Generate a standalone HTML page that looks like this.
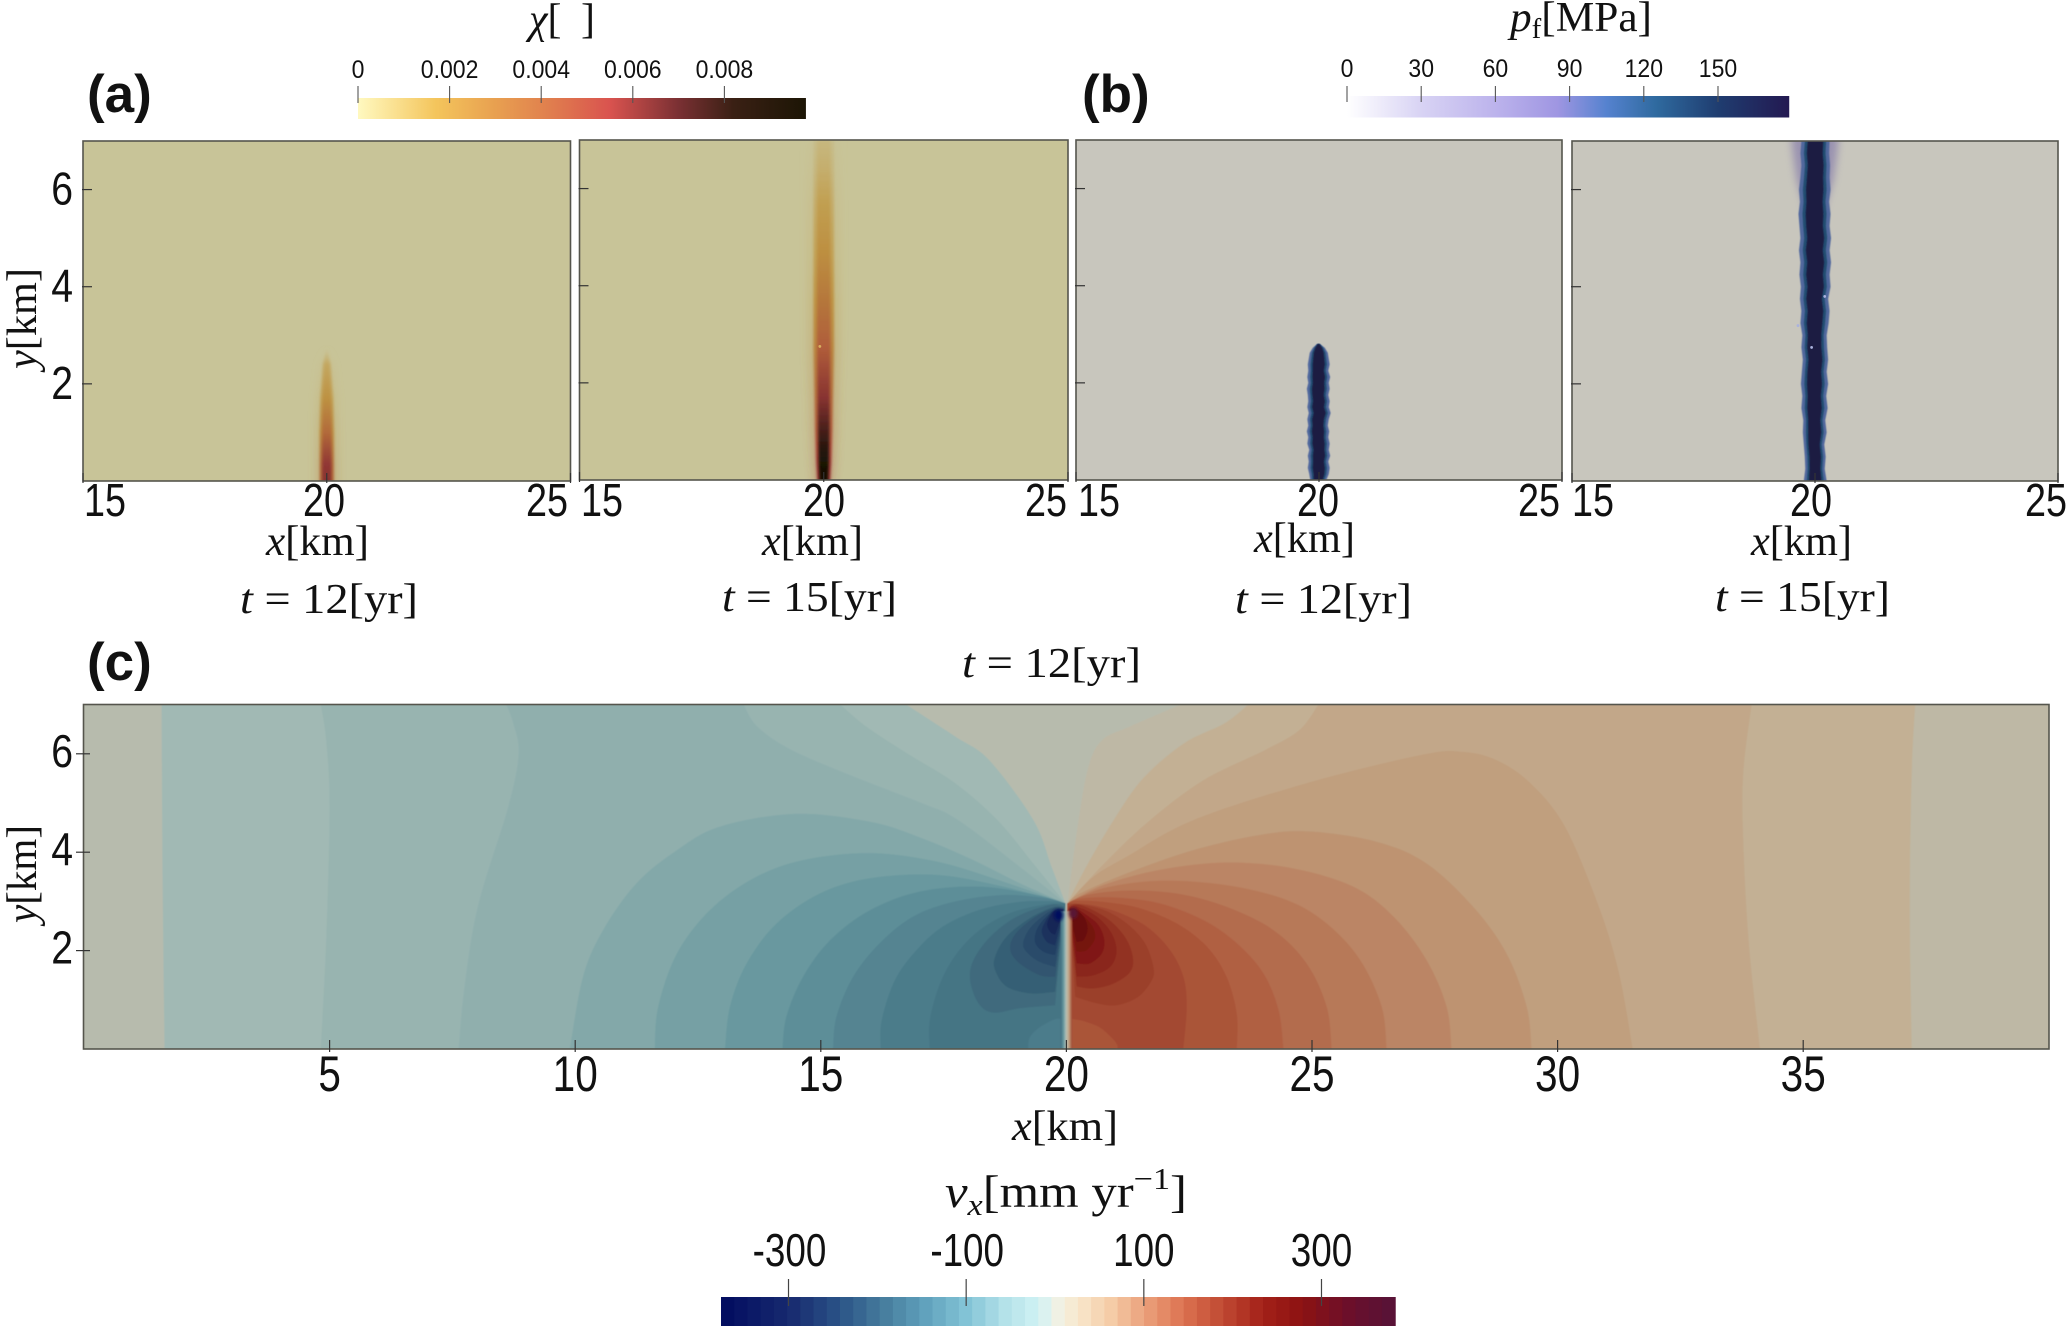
<!DOCTYPE html>
<html lang="en">
<head>
<meta charset="utf-8">
<title>Plume and velocity field figure</title>
<style>
html,body{margin:0;padding:0;background:#fff;}
svg{display:block;}
.m{font-family:"Liberation Serif",serif;fill:#111;}
.i{font-style:italic;}
.p{font-family:"Liberation Sans",sans-serif;font-weight:bold;font-size:53px;fill:#111;}
.t{font-family:"Liberation Sans",sans-serif;fill:#111;}
</style>
</head>
<body>
<svg id="fig" xmlns="http://www.w3.org/2000/svg" width="2067" height="1326" viewBox="0 0 2067 1326">
  <defs>
    <filter id="soft" x="-5%" y="-5%" width="110%" height="110%"><feGaussianBlur stdDeviation="0.6"/></filter>
    <filter id="plumeBlur" x="-100%" y="-5%" width="300%" height="110%"><feGaussianBlur stdDeviation="1.2"/></filter>
    <filter id="haloBlur" x="-100%" y="-20%" width="300%" height="140%"><feGaussianBlur stdDeviation="4"/></filter>
    <filter id="spotBlur" x="-100%" y="-100%" width="300%" height="300%"><feGaussianBlur stdDeviation="1.6"/></filter>
    <clipPath id="clipC"><rect x="84" y="704.6" width="1965" height="344.4"/></clipPath>
  </defs>

  <text class="p" x="87" y="112">(a)</text>
  <text class="p" x="1082" y="112">(b)</text>
  <text class="p" x="87" y="680">(c)</text>

  <text class="m" x="529" y="33" font-size="42"><tspan class="i">χ</tspan>[<tspan dx="9"> </tspan>]</text>
  <text class="m" x="1510" y="31" font-size="42" textLength="142" lengthAdjust="spacingAndGlyphs"><tspan class="i">p</tspan><tspan font-size="28" dy="7">f</tspan><tspan dy="-7">[MPa]</tspan></text>
  <text class="m" x="945" y="1207" font-size="46" textLength="242" lengthAdjust="spacingAndGlyphs"><tspan class="i">v</tspan><tspan class="i" font-size="31" dy="8">x</tspan><tspan dy="-8">[mm yr</tspan><tspan font-size="31" dy="-18">−1</tspan><tspan dy="18">]</tspan></text>

  <text class="m" x="266" y="555" font-size="42" textLength="103" lengthAdjust="spacingAndGlyphs"><tspan class="i">x</tspan>[km]</text>
  <text class="m" x="762" y="555" font-size="42" textLength="101" lengthAdjust="spacingAndGlyphs"><tspan class="i">x</tspan>[km]</text>
  <text class="m" x="1254" y="552" font-size="42" textLength="101" lengthAdjust="spacingAndGlyphs"><tspan class="i">x</tspan>[km]</text>
  <text class="m" x="1751" y="555" font-size="42" textLength="101" lengthAdjust="spacingAndGlyphs"><tspan class="i">x</tspan>[km]</text>
  <text class="m" x="1012" y="1140" font-size="42" textLength="106" lengthAdjust="spacingAndGlyphs"><tspan class="i">x</tspan>[km]</text>

  <text class="m" x="240" y="613" font-size="42" textLength="178" lengthAdjust="spacingAndGlyphs"><tspan class="i">t</tspan> = 12[yr]</text>
  <text class="m" x="722" y="611" font-size="42" textLength="175" lengthAdjust="spacingAndGlyphs"><tspan class="i">t</tspan> = 15[yr]</text>
  <text class="m" x="1235" y="613" font-size="42" textLength="177" lengthAdjust="spacingAndGlyphs"><tspan class="i">t</tspan> = 12[yr]</text>
  <text class="m" x="1715" y="611" font-size="42" textLength="175" lengthAdjust="spacingAndGlyphs"><tspan class="i">t</tspan> = 15[yr]</text>
  <text class="m" x="962" y="677" font-size="42" textLength="179" lengthAdjust="spacingAndGlyphs"><tspan class="i">t</tspan> = 12[yr]</text>

  <text class="m" transform="translate(36,369) rotate(-90)" font-size="42" textLength="101" lengthAdjust="spacingAndGlyphs"><tspan class="i">y</tspan>[km]</text>
  <text class="m" transform="translate(36,923) rotate(-90)" font-size="42" textLength="98" lengthAdjust="spacingAndGlyphs"><tspan class="i">y</tspan>[km]</text>
</svg>

<script>
// ---------- colormap data ----------
const chiStopValues = [0, 0.0017, 0.003, 0.0042, 0.0055, 0.007, 0.0082, 0.0098];
const chiStopColors = ['#fff9c0', '#f4c55c', '#e8a050', '#e07e4e', '#d9534f', '#7a3033', '#3a2014', '#1c1505'];
const pfStopValues = [0, 30, 60, 85, 105, 125, 150, 178];
const pfStopColors = ['#ffffff', '#d8d3f4', '#bcb3ec', '#9f96e2', '#5582cf', '#2f6a9f', '#1f3d70', '#231a52'];
const vxStopValues = [-380, -300, -239, -190, -148, -100, -56, -18, 0, 25, 62, 100, 143, 186, 235, 278, 332, 383];
const vxStopColors = ['#000a5e', '#17296f', '#2c5688', '#487f9f', '#5fa0bb', '#82c3d6', '#b4e2e9', '#d0f2f4', '#eef3e8', '#f9e8cd', '#f5cda8', '#eba27d', '#dd7452', '#c24c34', '#a32018', '#8c1212', '#6b0f2b', '#561238'];

// ---------- tick labels ----------
const chiTicks = [0, 0.002, 0.004, 0.006, 0.008];
const chiTickLabels = ['0', '0.002', '0.004', '0.006', '0.008'];
const pfTicks = [0, 30, 60, 90, 120, 150];
const pfTickLabels = ['0', '30', '60', '90', '120', '150'];
const vxTicks = [-300, -100, 100, 300];
const vxTickLabels = ['-300', '-100', '100', '300'];
const smallXTicks = [15, 20, 25];
const smallYTicks = [2, 4, 6];
const wideXTicks = [5, 10, 15, 20, 25, 30, 35];

// ---------- plume data, panel (a): x = 20 km column ----------
const chi12Heights = [0, 0.35, 1, 1.7, 2.4, 2.75];
const chi12Values = [0.0062, 0.006, 0.0038, 0.002, 0.0011, 0];
const chi12HalfWidth = [0.14, 0.14, 0.14, 0.13, 0.08, 0.01];
const chi15Heights = [0, 0.35, 0.68, 1.02, 1.7, 2.7, 3.7, 4.7, 5.7, 6.4, 7];
const chi15Values = [0.0098, 0.0095, 0.0085, 0.0076, 0.0062, 0.0044, 0.0032, 0.0021, 0.0014, 0.0009, 0.0006];
const chi15HalfWidth = [0.13, 0.15, 0.16, 0.17, 0.18, 0.2, 0.2, 0.2, 0.2, 0.2, 0.2];

// ---------- plume data, panel (b): edges in km ----------
const pf12Heights = [0, 0.12, 0.25, 0.38, 0.5, 0.62, 0.75, 0.88, 1, 1.12, 1.25, 1.38, 1.5, 1.62, 1.75, 1.88, 2, 2.12, 2.25, 2.38, 2.5, 2.62, 2.72, 2.8];
const pf12Left = [19.82, 19.8, 19.77, 19.79, 19.77, 19.8, 19.76, 19.78, 19.75, 19.78, 19.76, 19.79, 19.76, 19.78, 19.77, 19.75, 19.78, 19.76, 19.78, 19.77, 19.79, 19.81, 19.87, 19.96];
const pf12Right = [20.15, 20.2, 20.22, 20.19, 20.23, 20.2, 20.22, 20.19, 20.21, 20.18, 20.2, 20.24, 20.2, 20.22, 20.19, 20.22, 20.2, 20.23, 20.19, 20.22, 20.2, 20.18, 20.12, 20.02];
const pf15Heights = [0, 0.25, 0.5, 0.75, 1, 1.25, 1.5, 1.75, 2, 2.25, 2.5, 2.75, 3, 3.25, 3.5, 3.75, 4, 4.25, 4.5, 4.75, 5, 5.25, 5.5, 5.75, 6, 6.25, 6.5, 6.75, 7];
const pf15Left = [19.77, 19.8, 19.79, 19.77, 19.75, 19.76, 19.72, 19.74, 19.71, 19.73, 19.75, 19.72, 19.74, 19.7, 19.72, 19.69, 19.71, 19.68, 19.7, 19.67, 19.7, 19.68, 19.66, 19.69, 19.67, 19.7, 19.72, 19.7, 19.72];
const pf15Right = [20.24, 20.2, 20.22, 20.19, 20.24, 20.21, 20.26, 20.23, 20.27, 20.24, 20.27, 20.25, 20.24, 20.28, 20.3, 20.27, 20.32, 20.3, 20.33, 20.3, 20.33, 20.3, 20.32, 20.29, 20.32, 20.3, 20.31, 20.29, 20.3];
const pfLevels = [100, 128, 170];
const pfLevelInset = [1, 0.75, 0.55];
const pfHaloHeights = [5.6, 6.2, 6.7, 7];
const pfHaloHalfWidth = [0.2, 0.38, 0.45, 0.48];
const chiSpots = [[19.92, 2.75]];
const pfSpots = [[19.93, 2.75], [20.2, 3.8], [19.65, 3.2]];

// ---------- velocity field, panel (c): contour curves in km ----------
const fieldBackgroundLeftVx = -3;
const fieldBackgroundRightVx = 8;
const leftLevels = [-22, -37, -52, -67, -82, -97, -115, -132, -148, -160, -175, -195, -210, -225, -245, -265, -285];
const leftContours = [
  [[[1.64,0],[1.6,3.5],[1.58,7]], [[16.74,7],[17.74,6.35],[18.43,5.87],[19.33,4.65],[19.7,3.7],[19.98,2.96]]],
  [[[4.82,0],[4.93,2.2],[5,4.9],[4.93,6.28],[4.82,7]], [[15.4,7],[15.93,6.55],[16.77,6],[17.74,5.4],[18.6,4.65],[19.27,3.84],[19.98,2.96]]],
  [[[7.63,0],[7.74,1.2],[8.02,2.9],[8.64,4.93],[8.85,6],[8.74,6.62],[8.6,7]], [[13.43,7],[13.71,6.55],[14.4,6.08],[15.66,5.54],[17.05,5],[17.8,4.65],[19.13,3.64],[19.98,2.96]]],
  [[[9.89,0],[10.16,1.47],[10.57,2.42],[11.25,3.37],[12.07,4.04],[12.95,4.52],[14.47,4.78],[16,4.62],[17.02,4.3],[18.04,3.87],[19.05,3.37],[19.98,2.96]]],
  [[[11.62,0],[11.69,0.86],[12.07,1.94],[12.74,2.82],[13.63,3.47],[14.64,3.84],[16,3.98],[17.36,3.81],[18.72,3.4],[19.98,2.96]]],
  [[[13.05,0],[13.15,0.86],[13.49,1.74],[14.1,2.55],[14.98,3.16],[16,3.47],[17.36,3.54],[18.72,3.3],[19.98,2.96]]],
  [[[14.22,0],[14.3,0.66],[14.64,1.47],[15.19,2.21],[16,2.82],[17.02,3.2],[18.24,3.3],[19.39,3.13],[19.98,2.96]]],
  [[[15.25,0],[15.32,0.66],[15.66,1.47],[16.2,2.15],[16.88,2.69],[17.7,2.99],[18.72,3.13],[19.6,3.06],[19.98,2.96]]],
  [[[16.22,0],[16.24,0.58],[16.51,1.4],[16.95,2.01],[17.49,2.49],[18.24,2.83],[19.05,2.99],[19.73,3],[19.98,2.96]]],
  [[[17.22,0],[17.22,0.58],[17.43,1.33],[17.77,1.94],[18.24,2.42],[18.85,2.76],[19.53,2.93],[19.98,2.96]]],
  [[[19.77,0.89],[19.06,0.83],[18.51,0.74],[18.21,0.93],[18.04,1.4],[18.11,1.81],[18.45,2.28],[18.99,2.69],[19.67,2.93],[19.95,2.9]]],
  [[[19.77,1.16],[19.26,1.13],[18.78,1.27],[18.55,1.6],[18.55,1.88],[18.78,2.28],[19.26,2.66],[19.73,2.88],[19.95,2.88]]],
  [[[19.77,1.47],[19.46,1.5],[19.05,1.74],[18.86,2.01],[18.95,2.32],[19.33,2.66],[19.73,2.86],[19.95,2.86]]],
  [[[19.77,1.67],[19.46,1.77],[19.22,1.94],[19.12,2.15],[19.29,2.49],[19.73,2.84],[19.95,2.85]]],
  [[[19.77,1.91],[19.53,1.98],[19.36,2.18],[19.43,2.49],[19.73,2.81],[19.95,2.84]]],
  [[[19.77,2.11],[19.6,2.18],[19.5,2.38],[19.57,2.59],[19.73,2.8],[19.95,2.84]]],
  [[[19.77,2.32],[19.67,2.38],[19.61,2.55],[19.73,2.78],[19.95,2.84]]]
];
const leftBottomBlobVx = -146;
const leftBottomBlob = [[19.22,0],[19.26,0.25],[19.53,0.49],[19.9,0.59],[19.95,0]];

const rightBackgroundCurve = [[22.32,7],[21.28,6.55],[20.73,6.28],[20.45,5.74],[20.24,4.6],[20.02,2.96]];
const rightLevels = [30, 45, 60, 75, 90, 105, 120, 135, 150, 165, 180, 198, 215, 235, 260, 290];
const rightContours = [
  [[[37.21,0],[37.17,2.89],[37.21,5.6],[37.28,7]], [[23.7,7],[23.22,6.62],[22.39,6.21],[21.56,5.5],[20.96,4.65],[20.4,3.7],[20.02,2.96]]],
  [[[34.12,0],[33.89,2.2],[33.78,4.25],[33.78,5.6],[33.95,7]], [[25.13,7],[24.74,6.48],[24.05,6.08],[22.8,5.47],[21.7,4.65],[20.75,3.75],[20.02,2.96]]],
  [[[31.53,0],[31.25,1.54],[30.84,2.89],[30.15,4.52],[29.45,5.4],[28.76,5.87],[28.07,6.04],[27.24,5.98],[24.88,5.4],[22.58,4.65],[21.23,3.91],[20.55,3.5],[20.02,2.96]]],
  [[[29.47,0],[29.37,0.86],[28.96,1.94],[28.28,2.89],[27.33,3.77],[26.32,4.21],[24.96,4.42],[23.94,4.35],[22.58,4.04],[21.23,3.57],[20.28,3.16],[20.02,2.96]]],
  [[[27.84,0],[27.74,0.86],[27.33,1.81],[26.66,2.69],[25.84,3.3],[24.62,3.67],[23.26,3.79],[21.9,3.64],[20.75,3.33],[20.02,2.96]]],
  [[[26.52,0],[26.42,0.86],[25.98,1.81],[25.3,2.55],[24.48,3.03],[23.26,3.33],[21.9,3.42],[20.75,3.27],[20.02,2.96]]],
  [[[25.4,0],[25.3,0.86],[24.89,1.74],[24.21,2.42],[23.26,2.89],[22.25,3.16],[21.23,3.22],[20.41,3.13],[20.02,2.96]]],
  [[[24.42,0],[24.32,0.79],[24.01,1.54],[23.47,2.15],[22.79,2.62],[21.9,2.96],[21.02,3.08],[20.28,3.06],[20.02,2.96]]],
  [[[23.47,0],[23.47,0.71],[23.26,1.47],[22.86,2.08],[22.25,2.55],[21.5,2.86],[20.75,2.99],[20.21,3.01],[20.02,2.96]]],
  [[[22.38,0],[22.45,0.86],[22.38,1.47],[22.11,2.01],[21.63,2.49],[21.02,2.79],[20.48,2.93],[20.02,2.96]]],
  [[[20.18,1.06],[20.62,0.93],[21.02,0.89],[21.46,1.06],[21.74,1.4],[21.77,1.67],[21.6,2.15],[21.23,2.55],[20.75,2.83],[20.2,2.95],[20.05,2.9]]],
  [[[20.21,1.27],[20.55,1.23],[20.96,1.33],[21.3,1.57],[21.35,1.88],[21.19,2.28],[20.82,2.66],[20.28,2.93],[20.05,2.88]]],
  [[[20.21,1.47],[20.55,1.5],[20.89,1.67],[21.02,1.98],[20.92,2.35],[20.62,2.69],[20.21,2.89],[20.05,2.86]]],
  [[[20.21,1.74],[20.48,1.74],[20.72,1.94],[20.77,2.22],[20.65,2.52],[20.41,2.72],[20.18,2.86],[20.05,2.85]]],
  [[[20.21,1.98],[20.41,2.01],[20.58,2.25],[20.51,2.52],[20.21,2.82],[20.05,2.84]]],
  [[[20.21,2.18],[20.35,2.22],[20.43,2.45],[20.35,2.69],[20.18,2.84],[20.05,2.84]]]
];
const rightBottomBlobVx = 150;
const rightBottomBlob = [[20.08,0.62],[20.41,0.55],[20.75,0.39],[21.02,0],[20.08,0]];
const fieldPeaksX = [19.84, 20.14];
const fieldPeaksY = [2.72, 2.76];
const fieldPeaksVx = [-375, 375];
const faultStripX = [19.88, 19.94, 19.98, 20.01, 20.05, 20.12];
const faultStripVx = [-170, -100, -25, 5, 50, 170];

// ---------- helpers ----------
const svg = document.getElementById('fig');
const defs = svg.querySelector('defs');
const NS = 'http://www.w3.org/2000/svg';
const shade = [0.785, 0.77, 0.74];
let gradId = 0;

function make(tag, attrs, parent) {
  const n = document.createElementNS(NS, tag);
  for (const k in attrs) n.setAttribute(k, attrs[k]);
  (parent || svg).appendChild(n);
  return n;
}
function hex2rgb(h) { return [parseInt(h.slice(1,3),16), parseInt(h.slice(3,5),16), parseInt(h.slice(5,7),16)]; }
function colorAt(vals, cols, v) {
  if (v <= vals[0]) return hex2rgb(cols[0]);
  for (let i = 1; i < vals.length; i++) {
    if (v <= vals[i]) {
      const f = (v - vals[i-1]) / (vals[i] - vals[i-1]);
      const a = hex2rgb(cols[i-1]), b = hex2rgb(cols[i]);
      return [0,1,2].map(c => a[c] + (b[c] - a[c]) * f);
    }
  }
  return hex2rgb(cols[cols.length-1]);
}
function css(c) { return 'rgb(' + c.map(x => Math.round(x)).join(',') + ')'; }
function lit(c) { return css(c.map((x, i) => x * shade[i])); }
function vxFill(v) { return lit(colorAt(vxStopValues, vxStopColors, v)); }
function chiFill(v) { return lit(colorAt(chiStopValues, chiStopColors, v)); }
function pfFill(v) { return lit(colorAt(pfStopValues, pfStopColors, v)); }

function smooth(pts) {
  let d = 'L' + pts[0][0].toFixed(2) + ' ' + pts[0][1].toFixed(2);
  for (let i = 0; i < pts.length - 1; i++) {
    const p0 = pts[Math.max(i-1,0)], p1 = pts[i], p2 = pts[i+1], p3 = pts[Math.min(i+2,pts.length-1)];
    const c1 = [p1[0] + (p2[0]-p0[0])/6, p1[1] + (p2[1]-p0[1])/6];
    const c2 = [p2[0] - (p3[0]-p1[0])/6, p2[1] - (p3[1]-p1[1])/6];
    d += 'C' + c1[0].toFixed(2) + ' ' + c1[1].toFixed(2) + ' ' + c2[0].toFixed(2) + ' ' + c2[1].toFixed(2) + ' ' + p2[0].toFixed(2) + ' ' + p2[1].toFixed(2);
  }
  return d;
}
function fitText(n, factor) {
  const w = n.getComputedTextLength();
  n.setAttribute('textLength', (w * factor).toFixed(1));
  n.setAttribute('lengthAdjust', 'spacingAndGlyphs');
}

// ---------- axis functions for panel (c) ----------
const cX = km => 84 + km * 49.12;
const cY = km => 1049 - km * 49.2;

// ---------- small panels ----------
const smallPanels = [
  {id:'a1', left:83, right:570.5, top:141, bottom:481, bg:'#c8c498', lab:[84,324,568]},
  {id:'a2', left:579.5, right:1068, top:140, bottom:480, bg:'#c8c498', lab:[581,824,1067]},
  {id:'b1', left:1076, right:1562, top:140, bottom:480, bg:'#c8c6bd', lab:[1078,1318,1560]},
  {id:'b2', left:1572, right:2058, top:141, bottom:481, bg:'#c8c6bd', lab:[1572,1811,2067]}
];
function panelScales(p) {
  return {
    x: km => p.left + (km - 15) * (p.right - p.left) / 10,
    y: km => p.bottom - km * (p.bottom - p.top) / 7
  };
}
function panelGroup(p) {
  const cp = make('clipPath', {id:'clip-' + p.id}, defs);
  make('rect', {x:p.left, y:p.top, width:p.right-p.left, height:p.bottom-p.top}, cp);
  const g = make('g', {'clip-path':'url(#clip-' + p.id + ')'});
  
  
  return g;
}
const panelGroups = smallPanels.map(panelGroup);
smallPanels.forEach((p, i) => {
  const bg = make('rect', {x:p.left, y:p.top, width:p.right-p.left, height:p.bottom-p.top, fill:p.bg}, panelGroups[i]);
  
  
});
function drawFrame(p) {
  const s = panelScales(p);
  const fr = make('rect', {x:p.left, y:p.top, width:p.right-p.left, height:p.bottom-p.top, fill:'none', stroke:'#55554d', 'stroke-width':1.6});
  
  
  smallYTicks.forEach(v => {
    const t = make('line', {x1:p.left-1, x2:p.left+9, y1:s.y(v), y2:s.y(v), stroke:'#333', 'stroke-width':1.2});
    
    
  });
  smallXTicks.forEach((v, i) => {
    const t = make('line', {x1:s.x(v), x2:s.x(v), y1:p.bottom-8, y2:p.bottom+2, stroke:'#333', 'stroke-width':1.2});
    
    
    const anchors = ['start', 'middle', 'end'];
    const lbl = make('text', {x:p.lab[i], y:516, 'text-anchor':anchors[i], 'font-size':46, class:'t'});
    lbl.textContent = String(v);
    
    
    fitText(lbl, 0.82);
  });
}

// y tick labels for panel (a)
smallYTicks.forEach(v => {
  const s = panelScales(smallPanels[0]);
  const lbl = make('text', {x:73, y:s.y(v)+15, 'text-anchor':'end', 'font-size':46, class:'t'});
  lbl.textContent = String(v);
  
  
  fitText(lbl, 0.85);
});

// chi plumes
function drawChiPlume(p, parent, heights, values, half, center, name) {
  const s = panelScales(p);
  const layers = [
    {ratio:1.7, factor:0.55, alpha:0.22, filter:'url(#haloBlur)'},
    {ratio:1.05, factor:0.6, alpha:1, filter:'url(#plumeBlur)'},
    {ratio:0.68, factor:1, alpha:1, filter:'url(#plumeBlur)'}
  ];
  layers.forEach((ly, li) => {
    const id = 'g' + (gradId++);
    const g = make('linearGradient', {id:id, gradientUnits:'userSpaceOnUse', x1:0, x2:0, y1:s.y(0), y2:s.y(7)}, defs);
    heights.forEach((h, i) => {
      const v = values[i] * ly.factor;
      const a = Math.min(1, values[i] / 0.0012) * ly.alpha;
      make('stop', {offset:(h/7).toFixed(4), 'stop-color':chiFill(v), 'stop-opacity':a.toFixed(3)}, g);
    });
    let d = 'M' + s.x(center - half[0]*ly.ratio).toFixed(2) + ' ' + (s.y(0)+6);
    heights.forEach((h, i) => { d += 'L' + s.x(center - half[i]*ly.ratio).toFixed(2) + ' ' + s.y(h).toFixed(2); });
    for (let i = heights.length-1; i >= 0; i--) d += 'L' + s.x(center + half[i]*ly.ratio).toFixed(2) + ' ' + s.y(heights[i]).toFixed(2);
    d += 'L' + s.x(center + half[0]*ly.ratio).toFixed(2) + ' ' + (s.y(0)+6);
    const path = make('path', {d:d+'Z', fill:'url(#'+id+')', filter:ly.filter}, parent);
    
    
  });
}
drawChiPlume(smallPanels[0], panelGroups[0], chi12Heights, chi12Values, chi12HalfWidth, 20.0, 'chi-plume-t12');
drawChiPlume(smallPanels[1], panelGroups[1], chi15Heights, chi15Values, chi15HalfWidth, 20.0, 'chi-plume-t15');
chiSpots.forEach(pt => {
  const s = panelScales(smallPanels[1]);
  const c = make('circle', {cx:s.x(pt[0]), cy:s.y(pt[1]), r:1.4, fill:'#d8b060'});
  
  
});

// pf plumes
function drawPfPlume(p, parent, heights, left, right, name) {
  const s = panelScales(p);
  pfLevels.forEach((lev, li) => {
    const inset = pfLevelInset[li];
    let d = '';
    heights.forEach((h, i) => {
      const c = (left[i] + right[i]) / 2;
      d += (i ? 'L' : 'M') + s.x(c + (left[i]-c)*inset).toFixed(2) + ' ' + s.y(h).toFixed(2);
    });
    for (let i = heights.length-1; i >= 0; i--) {
      const c = (left[i] + right[i]) / 2;
      d += 'L' + s.x(c + (right[i]-c)*inset).toFixed(2) + ' ' + s.y(heights[i]).toFixed(2);
    }
    const path = make('path', {d:d+'Z', fill:pfFill(lev), filter:'url(#soft)'}, parent);
    
    
  });
}
(function () {
  const s = panelScales(smallPanels[3]);
  let d = '';
  pfHaloHeights.forEach((h, i) => { d += (i ? 'L' : 'M') + s.x(20 - pfHaloHalfWidth[i]).toFixed(2) + ' ' + s.y(h).toFixed(2); });
  d += 'L' + s.x(20 - 0.48).toFixed(2) + ' ' + (s.y(7)-12) + 'L' + s.x(20 + 0.48).toFixed(2) + ' ' + (s.y(7)-12);
  for (let i = pfHaloHeights.length-1; i >= 0; i--) d += 'L' + s.x(20 + pfHaloHalfWidth[i]).toFixed(2) + ' ' + s.y(pfHaloHeights[i]).toFixed(2);
  const halo = make('path', {d:d+'Z', fill:pfFill(70), opacity:0.75, filter:'url(#haloBlur)'}, panelGroups[3]);
  
  
})();
drawPfPlume(smallPanels[2], panelGroups[2], pf12Heights, pf12Left, pf12Right, 'pf-plume-t12');
drawPfPlume(smallPanels[3], panelGroups[3], pf15Heights, pf15Left, pf15Right, 'pf-plume-t15');
pfSpots.forEach(pt => {
  const s = panelScales(smallPanels[3]);
  const c = make('circle', {cx:s.x(pt[0]), cy:s.y(pt[1]), r:1.4, fill:'#aab2dd'});
  
  
});
smallPanels.forEach(drawFrame);

// ---------- panel (c) velocity field ----------
const fieldGroup = make('g', {'clip-path':'url(#clipC)'});


const inner = make('g', {filter:'url(#soft)'}, fieldGroup);

const fieldBg = make('rect', {x:cX(0)-4, y:cY(7)-4, width:cX(40)-cX(0)+8, height:cY(0)-cY(7)+8, fill:vxFill(fieldBackgroundLeftVx)}, inner);



function curve(km) { return km.map(p => [cX(p[0]), cY(p[1])]); }
function contourPath(runs, faultX) {
  let d = '';
  runs.forEach((run, i) => {
    const s = smooth(curve(run));
    d += i === 0 ? 'M' + s.slice(1) : s;
  });
  if (runs[0][0][1] === 0) d += 'L' + cX(faultX) + ' ' + cY(0);
  return d + 'Z';
}
(function () {
  const d = 'M' + smooth(curve(rightBackgroundCurve)).slice(1) + 'L' + cX(20.02) + ' ' + cY(0) + 'L' + (cX(40)+4) + ' ' + (cY(0)+4) + 'L' + (cX(40)+4) + ' ' + (cY(7)-4) + 'Z';
  const p = make('path', {d:d, fill:vxFill(fieldBackgroundRightVx)}, inner);
  
  
})();
leftContours.forEach((runs, i) => {
  const p = make('path', {d:contourPath(runs, 20), fill:vxFill(leftLevels[i])}, inner);
  
  
});
rightContours.forEach((runs, i) => {
  const p = make('path', {d:contourPath(runs, 20), fill:vxFill(rightLevels[i])}, inner);
  
  
});
const lb = make('path', {d:'M' + smooth(curve(leftBottomBlob)).slice(1) + 'Z', fill:vxFill(leftBottomBlobVx)}, inner);


const rb = make('path', {d:'M' + smooth(curve(rightBottomBlob)).slice(1) + 'Z', fill:vxFill(rightBottomBlobVx)}, inner);



// fault strip
(function () {
  const g = make('linearGradient', {id:'faultGrad', gradientUnits:'userSpaceOnUse', x1:cX(faultStripX[0]), x2:cX(faultStripX[faultStripX.length-1]), y1:0, y2:0}, defs);
  const span = faultStripX[faultStripX.length-1] - faultStripX[0];
  faultStripX.forEach((x, i) => {
    make('stop', {offset:((x - faultStripX[0]) / span).toFixed(3), 'stop-color':vxFill(faultStripVx[i])}, g);
  });
  const r = make('rect', {x:cX(faultStripX[0]), y:cY(2.8), width:cX(faultStripX[faultStripX.length-1])-cX(faultStripX[0]), height:cY(0)-cY(2.8)+2, fill:'url(#faultGrad)'}, inner);
  
  
})();
fieldPeaksX.forEach((x, i) => {
  const e = make('ellipse', {cx:cX(x), cy:cY(fieldPeaksY[i]), rx:4.5, ry:5.5, fill:css(colorAt(vxStopValues, vxStopColors, fieldPeaksVx[i])), filter:'url(#spotBlur)'}, fieldGroup);
  
  
});

const cFrame = make('rect', {x:83.5, y:704.5, width:1965.5, height:344.5, fill:'none', stroke:'#55554d', 'stroke-width':1.6});



wideXTicks.forEach(v => {
  const t = make('line', {x1:cX(v), x2:cX(v), y1:cY(0)-9, y2:cY(0)+3, stroke:'#333', 'stroke-width':1.2});
  
  
  const lbl = make('text', {x:cX(v), y:1091, 'text-anchor':'middle', 'font-size':50, class:'t'});
  lbl.textContent = String(v);
  
  
  fitText(lbl, 0.81);
});
smallYTicks.forEach(v => {
  const t = make('line', {x1:76, x2:90, y1:cY(v), y2:cY(v), stroke:'#333', 'stroke-width':1.2});
  
  
  const lbl = make('text', {x:73, y:cY(v)+13, 'text-anchor':'end', 'font-size':46, class:'t'});
  lbl.textContent = String(v);
  
  
  fitText(lbl, 0.85);
});

// ---------- colorbars ----------
const chiBarX = v => 358 + v * 45800;
const pfBarX = v => 1347 + v * 2.4733;
const vxBarX = v => 1055 + v * 0.8883;

function smoothBar(id, x1, x2, y, h, vals, cols, name, maxV) {
  const g = make('linearGradient', {id:id, gradientUnits:'userSpaceOnUse', x1:x1, x2:x2, y1:0, y2:0}, defs);
  vals.forEach((v, i) => {
    make('stop', {offset:Math.min(1, v / maxV).toFixed(4), 'stop-color':cols[i]}, g);
  });
  const r = make('rect', {x:x1, y:y, width:x2-x1, height:h, fill:'url(#'+id+')'});
  
  
}
smoothBar('chiGrad', chiBarX(0), chiBarX(0.00978), 98, 21, chiStopValues, chiStopColors, 'chi-colorbar', 0.00978);
smoothBar('pfGrad', pfBarX(0), pfBarX(178.8), 96, 21.5, pfStopValues, pfStopColors, 'pf-colorbar', 178.8);

chiTicks.forEach((v, i) => {
  const t = make('line', {x1:chiBarX(v), x2:chiBarX(v), y1:86, y2:103, stroke:'#555', 'stroke-width':1.1});
  
  
  const lbl = make('text', {x:chiBarX(v), y:78, 'text-anchor':'middle', 'font-size':25, class:'t'});
  lbl.textContent = chiTickLabels[i];
  
  
  fitText(lbl, 0.92);
});
pfTicks.forEach((v, i) => {
  const t = make('line', {x1:pfBarX(v), x2:pfBarX(v), y1:86, y2:102, stroke:'#555', 'stroke-width':1.1});
  
  
  const lbl = make('text', {x:pfBarX(v), y:77, 'text-anchor':'middle', 'font-size':25, class:'t'});
  lbl.textContent = pfTickLabels[i];
  
  
  fitText(lbl, 0.92);
});

const vxBandCount = 51;
const vxMin = -376;
const vxMax = 383;
for (let i = 0; i < vxBandCount; i++) {
  const a = vxMin + (vxMax - vxMin) * i / vxBandCount;
  const b = vxMin + (vxMax - vxMin) * (i + 1) / vxBandCount;
  const r = make('rect', {x:vxBarX(a), y:1297, width:vxBarX(b)-vxBarX(a)+0.5, height:29, fill:css(colorAt(vxStopValues, vxStopColors, (a+b)/2))});
  
  
}
vxTicks.forEach((v, i) => {
  const t = make('line', {x1:vxBarX(v), x2:vxBarX(v), y1:1279, y2:1306, stroke:'#444', 'stroke-width':1.2});
  
  
  const lbl = make('text', {x:vxBarX(v)+ (v < 0 ? 1 : 0), y:1266, 'text-anchor':'middle', 'font-size':46, class:'t'});
  lbl.textContent = vxTickLabels[i];
  
  
  fitText(lbl, 0.8);
});
</script>
</body>
</html>
